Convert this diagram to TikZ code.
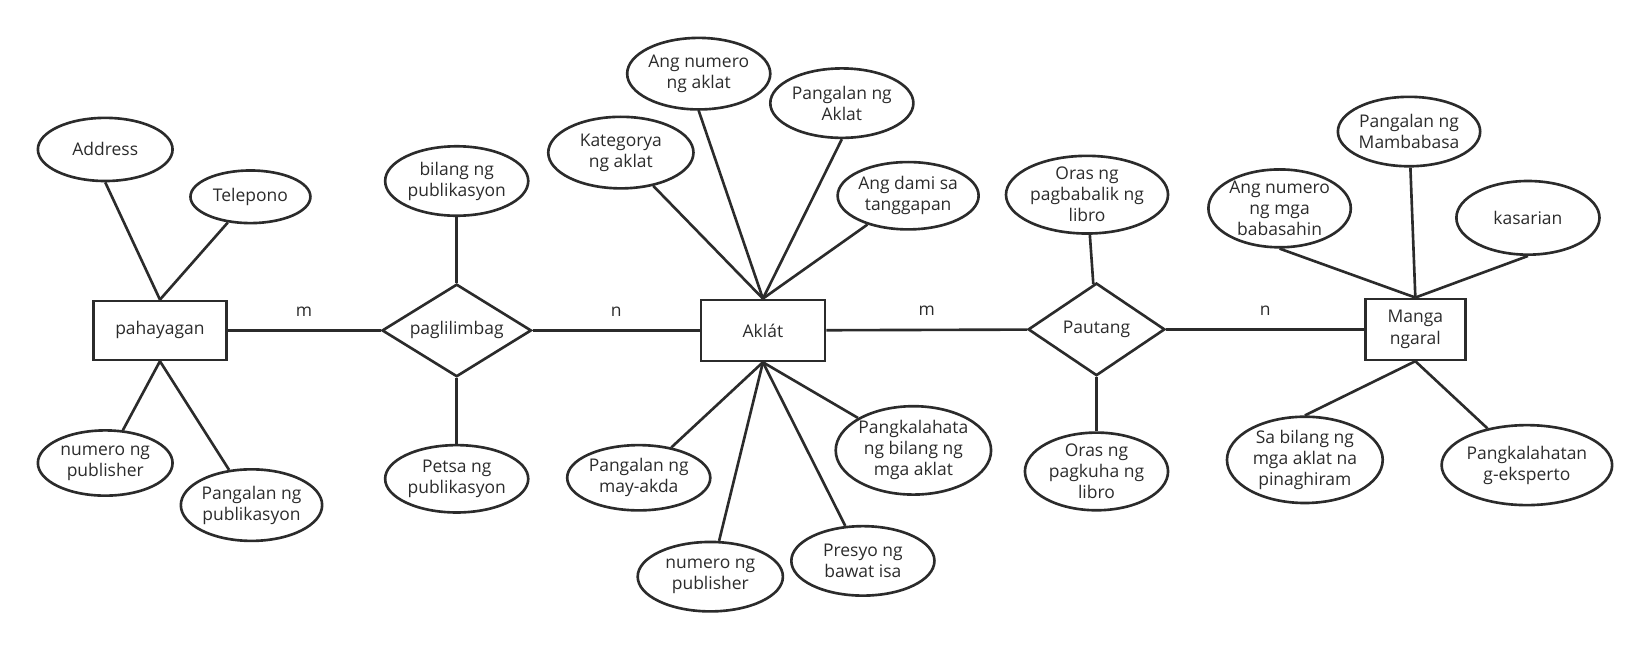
\documentclass[tikz,border=0pt]{standalone}
\usepackage{fontspec}
\setmainfont{Open Sans}
\usetikzlibrary{shapes.geometric}
\definecolor{ln}{HTML}{2B2B2B}
\begin{document}
\begin{tikzpicture}[x=0.5pt,y=-0.5pt,
  every node/.style={font=\fontsize{8.3}{10}\selectfont,align=center,text=ln,inner sep=0pt},
  ent/.style={draw=ln,line width=1.25pt,minimum width=#1,minimum height=28pt},
  att/.style args={#1/#2}{ellipse,draw=ln,line width=1.25pt,minimum width=#1*0.5pt,minimum height=#2*0.5pt},
  rel/.style args={#1/#2}{diamond,draw=ln,line width=1.25pt,minimum width=#1*0.5pt,minimum height=#2*0.5pt,aspect=1.6},
  cn/.style={draw=ln,line width=1.25pt}]
\useasboundingbox (0,0) rectangle (1568,618);
\node[ent=63pt] (pah) at (152,314) {pahayagan};
\node[ent=59pt,minimum height=29pt] (akl) at (725,314) {Aklát};
\node[ent=47.5pt,minimum height=29pt] (man) at (1345,313) {Manga\\ngaral};
\node[rel=142/88] (pag) at (434,314) {paglilimbag};
\node[rel=130/88] (pau) at (1042,313) {Pautang};
\node[att=128/60] (a1) at (100,142) {Address};
\node[att=114/50] (a2) at (238,187) {Telepono};
\node[att=128/62] (a3) at (100,440) {numero ng\\publisher};
\node[att=134/68] (a4) at (239,480) {Pangalan ng\\publikasyon};
\node[att=136/66] (b1) at (434,172) {bilang ng\\publikasyon};
\node[att=136/64] (b2) at (434,455) {Petsa ng\\publikasyon};
\node[att=138/68] (c1) at (590,145) {Kategorya\\ng aklat};
\node[att=136/68] (c2) at (664,70) {Ang numero\\ng aklat};
\node[att=136/66] (c3) at (800,98) {Pangalan ng\\Aklat};
\node[att=134/64] (c4) at (863,186) {Ang dami sa\\tanggapan};
\node[att=146/84] (c5) at (868,428) {Pangkalahata\\ng bilang ng\\mga aklat};
\node[att=136/62] (c6) at (607,454) {Pangalan ng\\may-akda};
\node[att=138/66] (c7) at (675,548) {numero ng\\publisher};
\node[att=136/66] (c8) at (820,533) {Presyo ng\\bawat isa};
\node[att=154/66] (d1) at (1033,185) {Oras ng\\pagbabalik ng\\libro};
\node[att=136/64] (d2) at (1042,448) {Oras ng\\pagkuha ng\\libro};
\node[att=126/74] (e1) at (1216,198) {Ang numero\\ng mga\\babasahin};
\node[att=134/66] (e2) at (1339,125) {Pangalan ng\\Mambabasa};
\node[att=136/70] (e3) at (1452,207) {kasarian};
\node[att=148/82] (e4) at (1240,437) {Sa bilang ng\\mga aklat na\\pinaghiram};
\node[att=134/76] (e5) at (1451,442) {Pangkalahatan\\g-eksperto};
\draw[cn] (pah) -- node[pos=0.5,above=6pt]{m} (pag);
\draw[cn] (pag) -- node[pos=0.5,above=6pt]{n} (akl);
\draw[cn] (akl) -- node[pos=0.5,above=6pt]{m} (pau);
\draw[cn] (pau) -- node[pos=0.5,above=6pt]{n} (man);
\draw[cn] (pah.north) -- (a1.south); \draw[cn] (pah.north) -- (a2);
\draw[cn] (pah.south) -- (a3); \draw[cn] (pah.south) -- (a4);
\draw[cn] (pag) -- (b1); \draw[cn] (pag) -- (b2);
\draw[cn] (akl.north) -- (c1); \draw[cn] (akl.north) -- (c2.south);
\draw[cn] (akl.north) -- (c3.south); \draw[cn] (akl.north) -- (c4);
\foreach \n in {c5,c6,c7,c8} \draw[cn] (akl.south) -- (\n);
\draw[cn] (pau) -- (d1); \draw[cn] (pau) -- (d2);
\draw[cn] (man.north) -- (e1.south); \draw[cn] (man.north) -- (e2);
\draw[cn] (man.north) -- (e3.south);
\draw[cn] (man.south) -- (e4.north); \draw[cn] (man.south) -- (e5);
\end{tikzpicture}
\end{document}
